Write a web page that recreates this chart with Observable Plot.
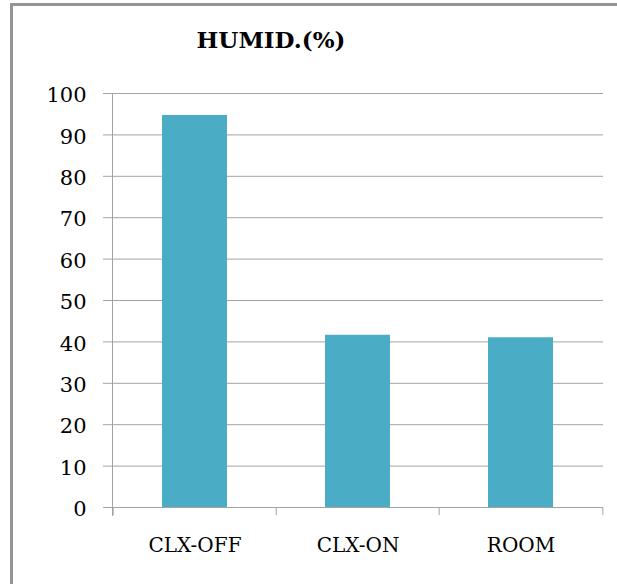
<!DOCTYPE html>
<html>
<head>
<meta charset="utf-8">
<script src="https://cdn.jsdelivr.net/npm/d3@7"></script>
<script src="https://cdn.jsdelivr.net/npm/@observablehq/plot@0.6"></script>
<style>
  html, body { margin: 0; padding: 0; background: #fff; overflow: hidden; }
  #wrap { position: relative; width: 617px; height: 584px; overflow: hidden; background: #fff; }
  #border { position: absolute; left: 10px; top: 3px; width: 607px; height: 581px;
            border-left: 3px solid #959595; border-top: 3px solid #959595; box-sizing: border-box; }
  #title { position: absolute; left: 141px; top: 28px; width: 260px; text-align: center;
           font-family: "DejaVu Serif", serif; font-weight: bold; font-size: 23px; line-height: 23px; color: #000; }
  #chart { position: absolute; left: 0; top: 60px; }
</style>
</head>
<body>
<div id="wrap">
  <div id="border"></div>
  <div id="title">HUMID.(%)</div>
  <div id="chart"></div>
</div>
<script>
const categories = ["CLX-OFF", "CLX-ON", "ROOM"];
const humidity = [94.7, 41.6, 41.0];
const yTicks = [0, 10, 20, 30, 40, 50, 60, 70, 80, 90, 100];

const data = categories.map((c, i) => ({category: c, value: humidity[i]}));

const W = 617, H = 524, mL = 112, mR = 14, mT = 33, mB = 77;
const step = (W - mL - mR) / categories.length;
const gridColor = "#a3a3a3";

const chart = Plot.plot({
  width: W, height: H,
  marginTop: mT, marginBottom: mB, marginLeft: mL, marginRight: mR,
  style: {fontFamily: "DejaVu Serif, serif", fontSize: "20px", color: "#000", background: "transparent"},
  x: {domain: categories, paddingInner: 0.6, paddingOuter: 0.3, label: null},
  y: {domain: [0, 100], label: null},
  marks: [
    Plot.ruleY(yTicks, {stroke: gridColor, strokeWidth: 1, insetLeft: -9}),
    Plot.barY(data, {x: "category", y: "value", fill: "#4BACC6"}),
    Plot.ruleY([0], {stroke: gridColor, strokeWidth: 1, insetLeft: -9}),
    Plot.frame({anchor: "left", stroke: gridColor, strokeWidth: 1, insetBottom: -8}),
    Plot.ruleX(categories, {x: d => d, y1: 0, y2: 0, insetBottom: -8, dx: -step / 2, stroke: gridColor}),
    Plot.ruleX(categories.slice(-1), {x: d => d, y1: 0, y2: 0, insetBottom: -8, dx: step / 2, stroke: gridColor}),
    Plot.axisY({ticks: yTicks, tickSize: 0, tickPadding: 26, dy: 2, fontSize: 21, fill: "#000"}),
    Plot.axisX({tickSize: 0, tickPadding: 30, fontSize: 20, fill: "#000"})
  ]
});
document.getElementById("chart").appendChild(chart);
</script>
</body>
</html>
